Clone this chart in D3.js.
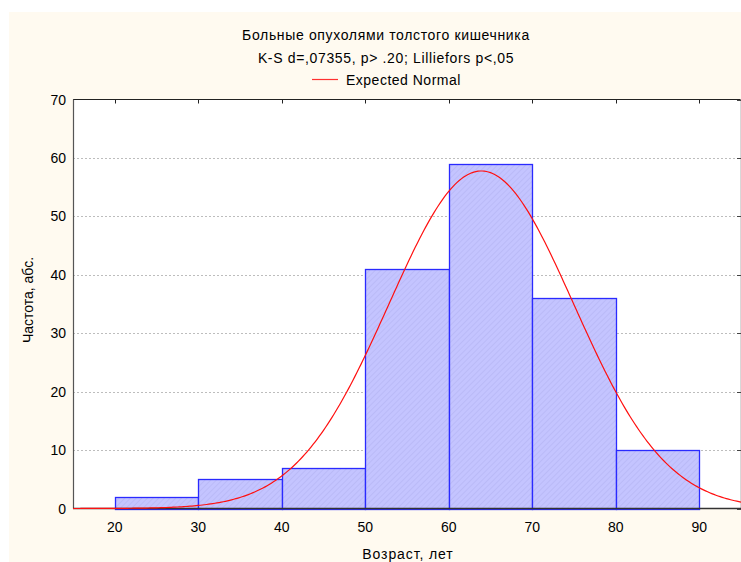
<!DOCTYPE html>
<html>
<head>
<meta charset="utf-8">
<script src="https://cdn.jsdelivr.net/npm/d3@7"></script>
<style>
  html, body { margin: 0; padding: 0; background: #ffffff; }
  svg { display: block; }
  text { font-family: "Liberation Sans", Arial, sans-serif; fill: #000; }
</style>
</head>
<body>
<svg id="chart" width="741" height="562"></svg>
<script>
// Histogram bins (age, years) and observed counts
const binStarts = [20, 30, 40, 50, 60, 70, 80];
const binWidth = 10;
const counts = [2, 5, 7, 41, 59, 36, 10];

// Fitted normal distribution parameters
const fitMean = 63.9;
const fitSd = 11.05;

// Axis ticks
const xTicks = [20, 30, 40, 50, 60, 70, 80, 90];
const yTicks = [0, 10, 20, 30, 40, 50, 60, 70];

const titleLines = [
  "Больные опухолями толстого кишечника",
  "K-S d=,07355, p> .20; Lilliefors p<,05"
];
const legendLabel = "Expected Normal";
const xLabel = "Возраст, лет";
const yLabel = "Частота, абс.";

const svg = d3.select("#chart");
const W = 741, H = 562;
const plot = { left: 73, top: 99.5, right: 741, bottom: 508.5 };

// Cream panel
svg.append("rect").attr("x", 9).attr("y", 12).attr("width", W - 9).attr("height", H - 12)
  .attr("fill", "#fffaf0");

const x = d3.scaleLinear().domain([15, 95]).range([plot.left, plot.right]);
const y = d3.scaleLinear().domain([0, 70]).range([plot.bottom, plot.top]);

// Hatch pattern for bars
const defs = svg.append("defs");
const pat = defs.append("pattern").attr("id", "hatch").attr("patternUnits", "userSpaceOnUse")
  .attr("width", 4).attr("height", 4).attr("patternTransform", "rotate(45)");
pat.append("rect").attr("width", 4).attr("height", 4).attr("fill", "#c4c4ff");
pat.append("line").attr("x1", 0).attr("y1", 0).attr("x2", 0).attr("y2", 4)
  .attr("stroke", "#b0b0f0").attr("stroke-width", 1);

defs.append("clipPath").attr("id", "plotClip").append("rect")
  .attr("x", plot.left).attr("y", plot.top - 1)
  .attr("width", plot.right - plot.left).attr("height", plot.bottom - plot.top + 2);

// Plot background
svg.append("rect").attr("x", plot.left).attr("y", plot.top)
  .attr("width", plot.right - plot.left).attr("height", plot.bottom - plot.top)
  .attr("fill", "#ffffff");

// Dotted gridlines
svg.append("g").selectAll("line").data(yTicks.filter(v => v > 0 && v < 70)).join("line")
  .attr("x1", plot.left).attr("x2", plot.right)
  .attr("y1", d => Math.round(y(d)) + 0.5).attr("y2", d => Math.round(y(d)) + 0.5)
  .attr("stroke", "#bdbdbd").attr("stroke-width", 1).attr("stroke-dasharray", "2,2");

// Bars
const bars = binStarts.map((s, i) => ({ x0: s, x1: s + binWidth, n: counts[i] }));
svg.append("g").selectAll("rect").data(bars).join("rect")
  .attr("x", d => Math.round(x(d.x0)) + 0.5)
  .attr("y", d => Math.round(y(d.n)) + 0.5)
  .attr("width", d => Math.round(x(d.x1)) - Math.round(x(d.x0)))
  .attr("height", d => Math.round(y(0)) - Math.round(y(d.n)))
  .attr("fill", "url(#hatch)")
  .attr("stroke", "#2a2aff").attr("stroke-width", 1.3);

// Expected normal curve (expected count per bin)
const N = d3.sum(counts);
const expected = v => N * binWidth / (fitSd * Math.sqrt(2 * Math.PI)) *
  Math.exp(-((v - fitMean) ** 2) / (2 * fitSd * fitSd));
const curvePts = d3.range(15, 95.01, 0.25).map(v => [v, expected(v)]);

// Axes
const frame = svg.append("g");
frame.append("line").attr("x1", plot.left).attr("x2", plot.right)
  .attr("y1", plot.top).attr("y2", plot.top).attr("stroke", "#222").attr("stroke-width", 1);
frame.append("line").attr("x1", plot.left + 0.5).attr("x2", plot.left + 0.5)
  .attr("y1", plot.top).attr("y2", plot.bottom).attr("stroke", "#555").attr("stroke-width", 1.2);
frame.append("line").attr("x1", plot.right - 0.5).attr("x2", plot.right - 0.5)
  .attr("y1", plot.top).attr("y2", plot.bottom).attr("stroke", "#d8d8d8").attr("stroke-width", 1);
frame.append("line").attr("x1", plot.left).attr("x2", plot.right)
  .attr("y1", plot.bottom).attr("y2", plot.bottom).attr("stroke", "#333").attr("stroke-width", 1.4);

// Top ticks pointing inward
frame.selectAll(".ttick").data(xTicks).join("line")
  .attr("x1", d => Math.round(x(d)) + 0.5).attr("x2", d => Math.round(x(d)) + 0.5)
  .attr("y1", plot.top).attr("y2", plot.top + 4).attr("stroke", "#222");
// Right ticks pointing inward
frame.selectAll(".rtick").data(yTicks).join("line")
  .attr("x1", plot.right - 4).attr("x2", plot.right)
  .attr("y1", d => Math.round(y(d)) + 0.5).attr("y2", d => Math.round(y(d)) + 0.5).attr("stroke", "#444");

svg.append("path").datum(curvePts)
  .attr("clip-path", "url(#plotClip)")
  .attr("d", d3.line().x(d => x(d[0])).y(d => y(d[1])).curve(d3.curveLinear))
  .attr("fill", "none").attr("stroke", "#ff1010").attr("stroke-width", 1.2);

// Tick labels
svg.append("g").selectAll("text").data(yTicks).join("text")
  .attr("x", 66).attr("y", d => y(d) + 5)
  .attr("text-anchor", "end").attr("font-size", 14).text(d => d);
svg.append("g").selectAll("text").data(xTicks).join("text")
  .attr("x", d => x(d)).attr("y", 532)
  .attr("text-anchor", "middle").attr("font-size", 14).text(d => d);

// Titles
svg.selectAll(".title").data(titleLines).join("text")
  .attr("x", 386).attr("y", (d, i) => 40 + i * 23)
  .attr("text-anchor", "middle").attr("font-size", 14)
  .attr("letter-spacing", 0.65).text(d => d);

// Legend
svg.append("line").attr("x1", 312).attr("x2", 338).attr("y1", 79.5).attr("y2", 79.5)
  .attr("stroke", "#ff3030").attr("stroke-width", 1.2);
svg.append("text").attr("x", 346).attr("y", 84.5).attr("font-size", 14)
  .attr("letter-spacing", 0.5).text(legendLabel);

// Axis titles
svg.append("text").attr("x", 408).attr("y", 559).attr("text-anchor", "middle")
  .attr("font-size", 14).attr("letter-spacing", 0.9).text(xLabel);
svg.append("text").attr("transform", "translate(33,300) rotate(-90)")
  .attr("text-anchor", "middle").attr("font-size", 14).text(yLabel);
</script>
</body>
</html>
